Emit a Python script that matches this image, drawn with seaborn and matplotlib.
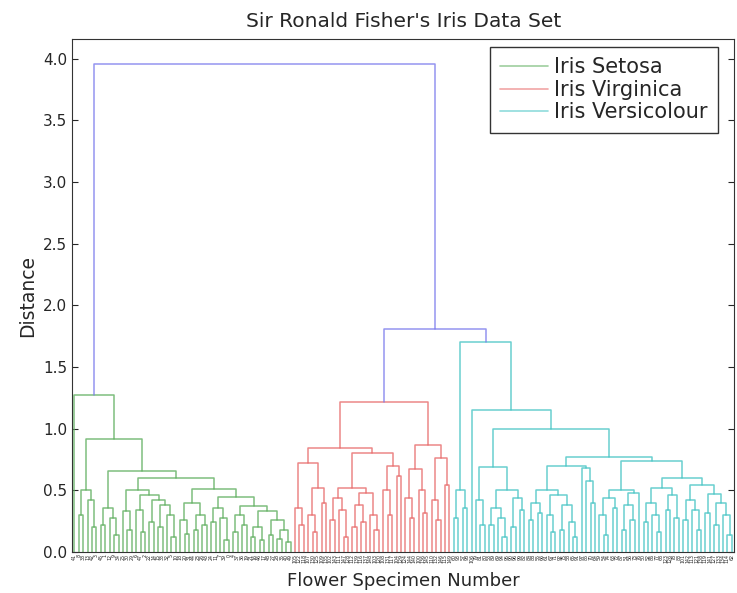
import matplotlib
matplotlib.use("Agg")
import matplotlib.pyplot as plt
from matplotlib.lines import Line2D
import seaborn as sns
import pandas as pd

# merge heights; leaves are specimen numbers (0-based)
top_height = 3.96
vv_height = 1.81

setosa_tree = [1.27, 41,
    [0.92,
        [0.50, [0.30, 8, 38], [0.42, 13, [0.20, 42, 3]]],
        [0.66,
            [0.36, [0.22, 45, 1], [0.28, 12, [0.14, 9, 34]]],
            [0.60,
                [0.50,
                    [0.33, 25, [0.18, 30, 29]],
                    [0.46, [0.34, 6, [0.16, 47, 2]],
                           [0.42, [0.24, 22, 14],
                                  [0.38, [0.20, 15, 33], [0.30, 32, [0.12, 5, 10]]]]]],
                [0.51,
                    [0.40, [0.26, 18, [0.15, 20, 31]], [0.30, [0.18, 44, 23], [0.22, 26, 43]]],
                    [0.45, [0.36, [0.24, 24, 11], [0.28, 7, [0.10, 39, 0]]],
                           [0.37, [0.30, [0.16, 4, 37], [0.22, 36, 19]],
                                  [0.33, [0.20, [0.12, 21, 16], [0.10, 46, 17]],
                                         [0.26, [0.14, 48, 27], [0.18, [0.11, 28, 35], [0.08, 40, 49]]]]]]]]]]]

virginica_tree = [1.22,
    [0.84,
        [0.72, [0.36, 105, [0.22, 122, 118]],
               [0.52, [0.30, 107, [0.16, 130, 125]], [0.40, 109, 135]]],
        [0.80,
            [0.52, [0.44, [0.26, 102, 143], [0.34, 111, [0.12, 147, 128]]],
                   [0.48, [0.38, [0.20, 112, 139], [0.24, 116, 137]], [0.30, 148, [0.18, 103, 120]]]],
            [0.70, [0.50, 108, [0.30, 131, 117]], [0.62, 104, 129]]]],
    [0.87,
        [0.67, [0.44, 124, [0.28, 144, 140]], [0.50, 100, [0.32, 136, 145]]],
        [0.76, [0.42, 110, [0.26, 132, 146]], [0.54, 115, 149]]]]

versicolour_tree = [1.70,
    [0.50, [0.28, 60, 93], [0.36, 57, 98]],
    [1.15, 106,
        [1.00,
            [0.69,
                [0.42, 79, [0.22, 81, 80]],
                [0.50, [0.36, [0.22, 53, 89], [0.28, 69, [0.12, 94, 95]]],
                       [0.44, [0.20, 90, 96], [0.34, 99, 82]]]],
            [0.77,
                [0.70,
                    [0.50, [0.40, [0.26, 84, 88], [0.32, 55, 66]],
                           [0.46, [0.30, 61, [0.16, 67, 71]],
                                  [0.38, [0.18, 92, 75], [0.24, 58, [0.12, 65, 91]]]]],
                    [0.68, 97, [0.58, 85, [0.40, 70, 64]]]],
                [0.74,
                    [0.50, [0.44, [0.30, 59, [0.14, 54, 74]], [0.36, 63, 72]],
                           [0.48, [0.38, [0.18, 87, 51], [0.26, 56, 73]], 76]],
                    [0.60,
                        [0.52, [0.40, [0.24, 50, 52], [0.30, 86, [0.16, 77, 68]]],
                               [0.46, [0.34, 123, 126], [0.28, 78, 83]]],
                        [0.54, [0.42, [0.26, 101, 142], [0.34, 113, [0.18, 121, 138]]],
                               [0.47, [0.32, 119, 141],
                                      [0.40, [0.22, 127, 133], [0.30, 134, [0.14, 114, 62]]]]]]]]]]]

group_names = ["Iris Setosa", "Iris Virginica", "Iris Versicolour"]
group_colors = {"Iris Setosa": "#5fae5f", "Iris Virginica": "#e86a6a",
                "Iris Versicolour": "#45c4c4", "above": "#7a7aec"}

leaves = []
rows = []


def add_link(xl, hl, xr, hr, h, group):
    k = len(rows) // 4
    for px, py in zip([xl, xl, xr, xr], [hl, h, h, hr]):
        rows.append((px, py, k, group))
    return (xl + xr) / 2, h


def walk(node, group):
    # returns (x, height) of the node, collects the U-shaped links
    if isinstance(node, int):
        x = 5 + 10 * len(leaves)
        leaves.append(node)
        return x, 0.0
    h, left, right = node
    xl, hl = walk(left, group)
    xr, hr = walk(right, group)
    return add_link(xl, hl, xr, hr, h, group)


xs, hs = walk(setosa_tree, group_names[0])
xv, hv = walk(virginica_tree, group_names[1])
xc, hc = walk(versicolour_tree, group_names[2])
xvv, hvv = add_link(xv, hv, xc, hc, vv_height, "above")
add_link(xs, hs, xvv, hvv, top_height, "above")

df = pd.DataFrame(rows, columns=["x", "y", "link", "group"])

sns.set_style("ticks")
fig, ax = plt.subplots(figsize=(7.37, 5.93), dpi=100)
fig.subplots_adjust(left=0.098, right=0.996, top=0.934, bottom=0.069)

sns.lineplot(data=df, x="x", y="y", units="link", estimator=None, sort=False,
             hue="group", palette=group_colors, legend=False, lw=1.1, alpha=0.8, ax=ax)

ax.set_xlim(0, 10 * len(leaves))
ax.set_ylim(0, top_height * 1.05)
ax.set_yticks([0, 0.5, 1.0, 1.5, 2.0, 2.5, 3.0, 3.5, 4.0])
ax.set_yticklabels(["0.0", "0.5", "1.0", "1.5", "2.0", "2.5", "3.0", "3.5", "4.0"])
ax.set_xticks([5 + 10 * i for i in range(len(leaves))])
ax.set_xticklabels([str(l) for l in leaves], rotation=90, fontsize=3.4)
ax.tick_params(axis="x", length=0, pad=1.5)
ax.tick_params(axis="y", direction="in", length=4, labelsize=11, right=True)
for s in ax.spines.values():
    s.set_color("#333333")

ax.set_title("Sir Ronald Fisher's Iris Data Set", fontsize=14.5, pad=9)
ax.set_xlabel("Flower Specimen Number", fontsize=13, labelpad=6)
ax.set_ylabel("Distance", fontsize=13.5, labelpad=4)

handles = [Line2D([], [], color=group_colors[g], lw=1.2, alpha=0.6) for g in group_names]
leg = ax.legend(handles, group_names, loc="upper right", fontsize=15, fancybox=False,
                framealpha=1, edgecolor="#333333", handlelength=2.3, handletextpad=0.3,
                labelspacing=0.12, borderpad=0.5, borderaxespad=0,
                bbox_to_anchor=(718 / 737, 1 - 47 / 593), bbox_transform=fig.transFigure)
leg.get_frame().set_linewidth(1.0)

fig.savefig("out.png", dpi=100)
